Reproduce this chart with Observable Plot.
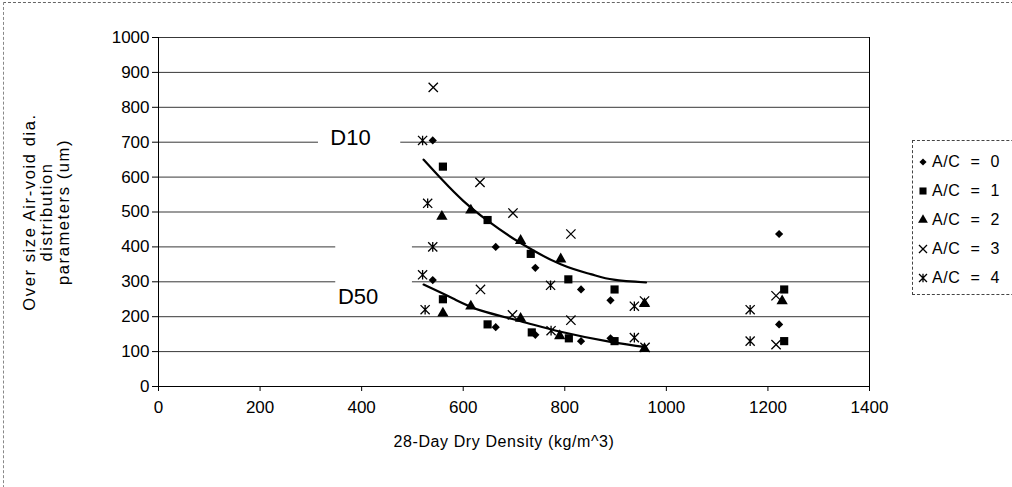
<!DOCTYPE html>
<html><head><meta charset="utf-8">
<script src="https://cdn.jsdelivr.net/npm/d3@7"></script>
<script src="https://cdn.jsdelivr.net/npm/@observablehq/plot@0.6"></script>
<style>
html,body{margin:0;padding:0;background:#fff;width:1012px;height:487px;overflow:hidden;}
#wrap{position:relative;width:1012px;height:487px;font-family:"Liberation Sans",Arial,sans-serif;color:#000;}
#frame{position:absolute;left:3px;top:2px;width:1030px;height:520px;border-top:1px dashed #666;border-left:1px dashed #888;}
#chart{position:absolute;left:0;top:0;}
#legend{position:absolute;left:912px;top:140px;width:140px;height:153px;border:1px dashed #444;background:#fff;}
#legend .item{position:absolute;left:4px;height:20px;display:flex;align-items:center;font-size:16px;letter-spacing:0.6px;word-spacing:5px;white-space:pre;}
#legend svg{margin-right:3px;}
</style></head>
<body><div id="wrap"><div id="frame"></div><div id="chart"></div><div id="legend"></div></div>
<script>
// ---- data ----
const seriesNames = ["A/C = 0", "A/C = 1", "A/C = 2", "A/C = 3", "A/C = 4"];
const ac0x = [540, 664, 742, 832, 890, 1222, 540, 664, 742, 832, 890, 1222];
const ac0y = [705, 400, 340, 278, 247, 437, 305, 170, 148, 130, 138, 178];
const ac1x = [560, 648, 733, 807, 898, 1232, 560, 648, 735, 808, 898, 1232];
const ac1y = [630, 477, 380, 307, 278, 278, 250, 178, 155, 138, 130, 130];
const ac2x = [558, 615, 713, 792, 957, 1228, 560, 615, 713, 790, 957];
const ac2y = [487, 505, 418, 365, 237, 245, 210, 230, 195, 145, 108];
const ac3x = [541, 633, 698, 812, 957, 1216, 634, 697, 812, 958, 1216];
const ac3y = [857, 585, 497, 437, 245, 260, 278, 205, 190, 112, 120];
const ac4x = [520, 530, 540, 772, 937, 1165, 520, 525, 773, 937, 1165];
const ac4y = [705, 525, 400, 290, 230, 220, 320, 220, 160, 140, 130];
// trend curves
const d10x = [522, 560, 600, 650, 713, 792, 851, 896, 960];
const d10y = [650, 590, 532, 473, 411, 350, 322, 306, 298];
const d50x = [522, 580, 634, 713, 792, 890, 960];
const d50y = [292, 252, 218, 187, 157, 128, 113];
// annotations
const annText = ["D10", "D50"];
const annX = [378, 393];
const annY = [713, 258];
const boxX1 = [315, 349];
const boxX2 = [477, 500];
const boxY1 = [680, 240];
const boxY2 = [745, 410];
const xTicks = [0, 200, 400, 600, 800, 1000, 1200, 1400];
const yTicks = [0, 100, 200, 300, 400, 500, 600, 700, 800, 900, 1000];
const yTitle = "Over size Air-void dia.\ndistribution\nparameters (um)";
const xTitle = "28-Day Dry Density (kg/m^3)";

// ---- build ----
const xs = [ac0x, ac1x, ac2x, ac3x, ac4x];
const ys = [ac0y, ac1y, ac2y, ac3y, ac4y];
const pts = seriesNames.map((s, i) => xs[i].map((x, j) => ({s, x, y: ys[i][j]})));
const d10 = d10x.map((x, i) => ({x, y: d10y[i]}));
const d50 = d50x.map((x, i) => ({x, y: d50y[i]}));
const ann = annText.map((t, i) => ({t, x: annX[i], y: annY[i], x1: boxX1[i], x2: boxX2[i], y1: boxY1[i], y2: boxY2[i]}));

const asterisk = {draw(ctx, size) {
  const r = Math.sqrt(size) * 0.6;
  ctx.moveTo(-r, -r); ctx.lineTo(r, r);
  ctx.moveTo(-r, r); ctx.lineTo(r, -r);
  ctx.moveTo(0, -r * 1.05); ctx.lineTo(0, r * 1.05);
}};
const styles = [
  {symbol: "diamond2", r: 3.7, fill: "#000", stroke: "none"},
  {symbol: "square", r: 4.6, fill: "#000", stroke: "none"},
  {symbol: "triangle", r: 4.2, fill: "#000", stroke: "none"},
  {symbol: "times", r: 4.3, fill: "none", stroke: "#000", strokeWidth: 1.3},
  {symbol: asterisk, r: 4.3, fill: "none", stroke: "#000", strokeWidth: 1.3}
];

const font = "Liberation Sans, Arial, sans-serif";
const chart = Plot.plot({
  width: 1012, height: 487,
  marginLeft: 158, marginRight: 143, marginTop: 37, marginBottom: 101,
  style: {fontFamily: font, background: "transparent", color: "#000"},
  x: {domain: [0, 1400]},
  y: {domain: [0, 1000]},
  marks: [
    Plot.gridY(yTicks.filter(d => d > 0), {stroke: "#222", strokeOpacity: 0.9, strokeWidth: 1}),
    Plot.rect(ann, {x1: "x1", x2: "x2", y1: "y1", y2: "y2", fill: "white"}),
    Plot.text(ann, {x: "x", y: "y", text: "t", fontSize: 22, fill: "#000"}),
    Plot.ruleX([0, 1400], {stroke: "#000", strokeWidth: 1}),
    Plot.ruleY([0], {stroke: "#000", strokeWidth: 1}),
    Plot.axisY({ticks: yTicks, tickFormat: d => String(d), tickSize: 6, tickPadding: 3, fontSize: 17, label: null, stroke: "#000"}),
    Plot.axisX({ticks: xTicks, tickFormat: d => String(d), tickSize: 5, tickPadding: 9, fontSize: 17, label: null}),
    Plot.text([xTitle], {frameAnchor: "bottom", dy: 60, dx: -10, fontSize: 16, text: d => d}),
    Plot.text([yTitle], {frameAnchor: "left", dx: -112, rotate: -90, fontSize: 16.5, lineHeight: 1.02, textAnchor: "middle", text: d => d}),
    Plot.line(d10, {x: "x", y: "y", curve: "natural", stroke: "#000", strokeWidth: 2.2}),
    Plot.line(d50, {x: "x", y: "y", curve: "natural", stroke: "#000", strokeWidth: 2.2}),
    ...pts.map((p, i) => Plot.dot(p, {x: "x", y: "y", ...styles[i]}))
  ]
});
document.getElementById("chart").appendChild(chart);
// widen title spacing like the original
chart.querySelectorAll("text").forEach(t => {
  if (t.textContent.startsWith("Over size")) t.setAttribute("letter-spacing", "1.6");
  if (t.textContent.startsWith("28-Day")) t.setAttribute("letter-spacing", "0.6");
});

// legend
const leg = document.getElementById("legend");
const legTops = [11, 40, 69, 98, 127];
seriesNames.forEach((s, i) => {
  const st = styles[i];
  const size = Math.PI * st.r * st.r * 0.75;
  const type = typeof st.symbol === "string" ? {diamond2: d3.symbolDiamond2, square: d3.symbolSquare, triangle: d3.symbolTriangle, times: d3.symbolTimes}[st.symbol] : st.symbol;
  const path = d3.symbol(type, size)();
  const item = document.createElement("div");
  item.className = "item";
  item.style.top = legTops[i] + "px";
  item.innerHTML = `<svg width="12" height="12" viewBox="-6 -6 12 12"><path d="${path}" fill="${st.fill}" stroke="${st.stroke}" stroke-width="${st.strokeWidth || 0}"/></svg><span>${s}</span>`;
  leg.appendChild(item);
});
</script></body></html>
